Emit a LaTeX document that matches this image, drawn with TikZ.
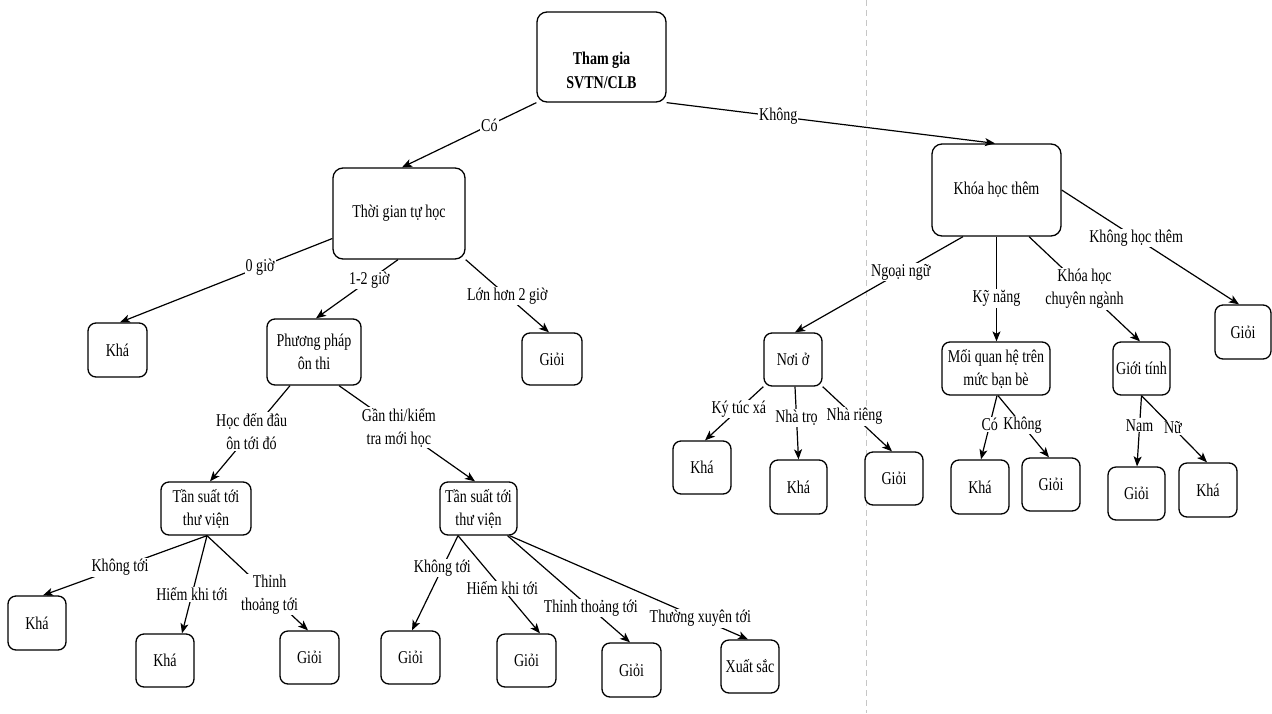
\documentclass[tikz,border=0pt]{standalone}
\usepackage{fontspec}
\setmainfont{Liberation Serif}[FakeStretch=0.78]
\usetikzlibrary{arrows.meta,calc}
\begin{document}
\begin{tikzpicture}[x=1pt,y=-1pt,
  box/.style={draw=black,line width=1.3pt,rounded corners=8pt,fill=white,inner sep=0pt,align=center,font=\fontsize{18}{23}\selectfont},
  leaf/.style={box,minimum width=58pt,minimum height=53pt},
  edge/.style={draw=black,line width=1.2pt,-{Stealth[length=10pt,width=8pt,inset=2.5pt]}},
  lbl/.style={fill=white,inner sep=1pt,align=center,font=\fontsize{18}{23}\selectfont}]
\useasboundingbox (0,0) rectangle (1272,713);
\draw[gray!45,line width=1pt,dash pattern=on 6pt off 4pt] (866,0) -- (866,713);
% nodes
\node[box,minimum width=129pt,minimum height=90pt,rounded corners=10pt] (root) at (601.5,57) {};
\node[inner sep=0pt,align=center,font=\fontsize{18}{24}\selectfont\bfseries] (roottxt) at (601.5,70) {Tham gia\\SVTN/CLB};
\node[box,minimum width=132pt,minimum height=91pt,rounded corners=10pt] (tg) at (399,213.5) {Thời gian tự học};
\node[box,minimum width=129pt,minimum height=92pt,rounded corners=10pt] (kh) at (996.5,190) {Khóa học thêm};
\node[leaf,minimum width=59pt,minimum height=54pt] (k1) at (117.5,350) {Khá};
\node[box,minimum width=94pt,minimum height=66pt] (pp) at (314,352) {Phương pháp\\ôn thi};
\node[leaf,minimum width=60pt,minimum height=52pt] (g1) at (552,359) {Giỏi};
\node[box,minimum width=90pt,minimum height=53pt] (tsL) at (206,508.5) {Tần suất tới\\thư viện};
\node[box,minimum width=77pt,minimum height=53pt] (tsR) at (478.5,508.5) {Tần suất tới\\thư viện};
\node[leaf,minimum height=54pt] (k2) at (37,623) {Khá};
\node[leaf] (k3) at (165,660.5) {Khá};
\node[leaf,minimum width=59pt] (g2) at (309.5,657.5) {Giỏi};
\node[leaf,minimum width=59pt] (g3) at (410.5,657.5) {Giỏi};
\node[leaf,minimum width=59pt] (g4) at (526.5,660.5) {Giỏi};
\node[leaf,minimum width=59pt,minimum height=54pt] (g5) at (631.5,670) {Giỏi};
\node[leaf] (xs) at (750,666.5) {Xuất sắc};
\node[leaf] (no) at (793,359.5) {Nơi ở};
\node[leaf] (k4) at (702,467.5) {Khá};
\node[leaf,minimum width=57pt,minimum height=54pt] (k5) at (798.5,487) {Khá};
\node[leaf] (g6) at (894,478.5) {Giỏi};
\node[box,minimum width=108pt,minimum height=53pt] (mq) at (996,368.5) {Mối quan hệ trên\\mức bạn bè};
\node[leaf,minimum height=54pt] (k6) at (980,487) {Khá};
\node[leaf] (g7) at (1051,484.5) {Giỏi};
\node[leaf,minimum width=57pt] (gt) at (1141.5,368.5) {Giới tính};
\node[leaf,minimum width=57pt] (g8) at (1136.5,493.5) {Giỏi};
\node[leaf,minimum height=54pt] (k7) at (1208,490) {Khá};
\node[leaf,minimum width=56pt,minimum height=54pt] (g9) at (1243,332) {Giỏi};
% edges
\draw[edge] (root.south west) -- node[lbl,pos=0.35]{Có} ($(tg.north)+(3,0)$);
\draw[edge] (root.south east) -- node[lbl,pos=0.34]{Không} ($(kh.north)+(-1.5,0)$);
\draw[edge] ($(tg.west)+(0,25)$) -- node[lbl,pos=0.34]{0 giờ} ($(k1.north)+(2.5,0)$);
\draw[edge] ($(tg.south)+(-1,0)$) -- node[lbl,pos=0.35]{1-2 giờ} ($(pp.north)+(2,0)$);
\draw[edge] (tg.south east) -- node[lbl,pos=0.5]{Lớn hơn 2 giờ} ($(g1.north)+(-3,0)$);
\draw[edge] ($(pp.south)+(-24,0)$) -- node[lbl,pos=0.48]{Học đến đâu\\ôn tới đó} ($(tsL.north)+(4,0)$);
\draw[edge] ($(pp.south)+(25,0)$) -- node[lbl,pos=0.44]{Gần thi/kiểm\\tra mới học} ($(tsR.north)+(-3.5,0)$);
\draw[edge] ($(tsL.south)+(1,0)$) -- node[lbl,pos=0.53]{Không tới} ($(k2.north)+(6,0)$);
\draw[edge] ($(tsL.south)+(1,0)$) -- node[lbl,pos=0.6]{Hiếm khi tới} ($(k3.north)+(17,0)$);
\draw[edge] ($(tsL.south)+(1,0)$) -- node[lbl,pos=0.62]{Thỉnh\\thoảng tới} ($(g2.north)+(-1.5,0)$);
\draw[edge] ($(tsR.south)+(-20.5,0)$) -- node[lbl,pos=0.34]{Không tới} ($(g3.north)+(1.5,0)$);
\draw[edge] ($(tsR.south)+(-20.5,0)$) -- node[lbl,pos=0.54]{Hiếm khi tới} ($(g4.north)+(13.5,0)$);
\draw[edge] ($(tsR.south)+(29,0)$) -- node[lbl,pos=0.68]{Thỉnh thoảng tới} ($(g5.north)+(-1.5,0)$);
\draw[edge] ($(tsR.south)+(31,0)$) -- node[lbl,pos=0.8]{Thường xuyên tới} ($(xs.north)+(-2,0)$);
\draw[edge] ($(kh.south)+(-33.5,0)$) -- node[lbl,pos=0.37]{Ngoại ngữ} ($(no.north)+(2,0)$);
\draw[edge] (kh.south) -- node[lbl,pos=0.59]{Kỹ năng} (kh.south |- mq.north);
\draw[edge] ($(kh.south)+(32.5,0)$) -- node[lbl,pos=0.5]{Khóa học\\chuyên ngành} ($(gt.north)+(-1.5,0)$);
\draw[edge] (kh.east) -- node[lbl,pos=0.42]{Không học thêm} ($(g9.north)+(-4,0)$);
\draw[edge] (no.south west) -- node[lbl,pos=0.42]{Ký túc xá} ($(k4.north)+(3,0)$);
\draw[edge] ($(no.south)+(2,0)$) -- node[lbl,pos=0.43]{Nhà trọ} (k5.north);
\draw[edge] (no.south east) -- node[lbl,pos=0.46]{Nhà riêng} ($(g6.north)+(-2,0)$);
\draw[edge] ($(mq.south)+(1,0)$) -- node[lbl,pos=0.45]{Có} ($(k6.north)+(1,0)$);
\draw[edge] ($(mq.south)+(2,0)$) -- node[lbl,pos=0.48]{Không} ($(g7.north)+(-2,0)$);
\draw[edge] (gt.south) -- node[lbl,pos=0.42]{Nam} ($(g8.north)+(0.5,0)$);
\draw[edge] (gt.south) -- node[lbl,pos=0.48]{Nữ} ($(k7.north)+(-1,0)$);
\end{tikzpicture}
\end{document}
